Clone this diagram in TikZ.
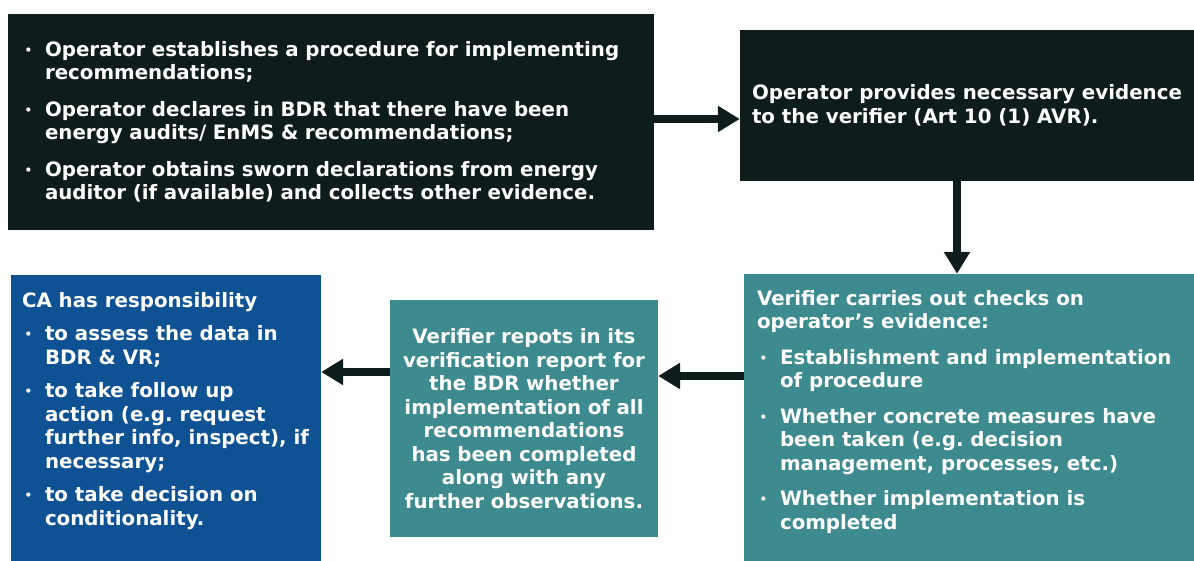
\documentclass[tikz,border=0pt]{standalone}
\usepackage{fontspec}
\setmainfont{DejaVu Sans}
\usetikzlibrary{arrows.meta}

\definecolor{boxdark}{HTML}{0F1C1C}
\definecolor{boxteal}{HTML}{3D8A8F}
\definecolor{boxblue}{HTML}{0F5294}

% no hyphenation in the boxes
\hyphenpenalty=10000
\exhyphenpenalty=10000
\frenchspacing

% bullet and hanging indent
\newcommand{\bul}{\makebox[23pt][l]{\hspace{2.5pt}\raisebox{1.8pt}{\fontsize{12}{12}\selectfont •}}}
\newcommand{\ind}{\hspace*{23pt}}

\begin{document}
\begin{tikzpicture}[x=1pt,y=1pt,
    box/.style = {rectangle,inner sep=0pt,text=white,font=\fontsize{19.8}{23.5}\selectfont\bfseries},
    darkbox/.style = {box,fill=boxdark},
    tealbox/.style = {box,fill=boxteal},
    bluebox/.style = {box,fill=boxblue},
    flow/.style = {-{Triangle[length=22pt,width=25pt]},line width=8pt,draw=boxdark}]

        \useasboundingbox (0,0) rectangle (1194,561);

        % Operator steps
        \node [darkbox,minimum width=646pt,minimum height=216pt,text width=618pt,align=left] (ops) at (331,439)
            {\bul Operator establishes a procedure for implementing\\
             \ind recommendations;\\[13pt]
             \bul Operator declares in BDR that there have been\\
             \ind energy audits/ EnMS \& recommendations;\\[13pt]
             \bul Operator obtains sworn declarations from energy\\
             \ind auditor (if available) and collects other evidence.};

        % Evidence to the verifier
        \node [darkbox,minimum width=454pt,minimum height=151pt,align=left] (evid) at (967,455.5)
            {Operator provides necessary evidence\\
             to the verifier (Art 10 (1) AVR).};

        % Verifier checks
        \node [tealbox,minimum width=450pt,minimum height=287pt] (checks) at (969,143.5)
            {\begin{minipage}[c][255pt][t]{424pt}\raggedright
             Verifier carries out checks on\\
             operator’s evidence:\\[12pt]
             \bul Establishment and implementation\\
             \ind of procedure\\[12pt]
             \bul Whether concrete measures have\\
             \ind been taken (e.g. decision\\
             \ind management, processes, etc.)\\[12pt]
             \bul Whether implementation is\\
             \ind completed
             \end{minipage}};

        % Verification report
        \node [tealbox,minimum width=268pt,minimum height=237pt,text width=250pt,align=center] (report) at (524,142.5)
            {Verifier repots in its\\
             verification report for\\
             the BDR whether\\
             implementation of all\\
             recommendations\\
             has been completed\\
             along with any\\
             further observations.};

        % CA responsibility
        \node [bluebox,minimum width=310pt,minimum height=286pt] (ca) at (166,143)
            {\begin{minipage}[c][252pt][t]{288pt}\raggedright
             CA has responsibility\\[10pt]
             \bul to assess the data in\\
             \ind BDR \& VR;\\[10pt]
             \bul to take follow up\\
             \ind action (e.g. request\\
             \ind further info, inspect), if\\
             \ind necessary;\\[10pt]
             \bul to take decision on\\
             \ind conditionality.
             \end{minipage}};

        % Arrows
        \draw [flow] ([yshift=3pt]ops.east) -- ([yshift=3pt]ops.east -| evid.west);
        \draw [flow] ([xshift=-10pt]evid.south) -- ([xshift=-10pt]evid.south |- checks.north);
        \draw [flow] ([yshift=41.5pt]checks.west) -- ([yshift=41.5pt]checks.west -| report.east);
        \draw [flow] ([yshift=46.5pt]report.west) -- ([yshift=46.5pt]report.west -| ca.east);

    \end{tikzpicture}
\end{document}
